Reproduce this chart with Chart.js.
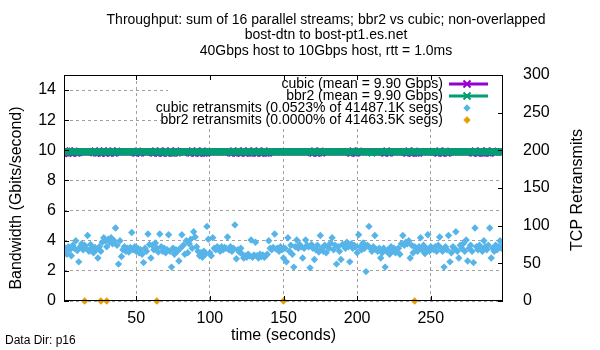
<!DOCTYPE html>
<html>
<head>
<meta charset="utf-8">
<script src="https://cdn.jsdelivr.net/npm/chart.js@4.4.1/dist/chart.umd.min.js"></script>
<style>
  html, body { margin: 0; padding: 0; background: #fff; }
</style>
</head>
<body>
<canvas id="chart" width="600" height="350"></canvas>
<script>
const titleLines = [
  "Throughput: sum of 16 parallel streams; bbr2 vs cubic; non-overlapped",
  "bost-dtn to bost-pt1.es.net",
  "40Gbps host to 10Gbps host, rtt = 1.0ms",
];

// one sample per second, t = 1..299
const seconds = Array.from({ length: 299 }, (_, i) => i + 1);

// throughput in Gbps
const cubicGbps = [
  9.78, 9.84, 9.95, 9.82, 9.96, 9.84, 9.80, 9.95, 9.84, 9.82,
  9.85, 9.90, 9.90, 9.90, 9.90, 9.90, 9.90, 9.90, 9.90, 9.90,
  9.84, 9.96, 9.82, 9.84, 9.95, 9.80, 9.84, 9.96, 9.82, 9.84,
  9.95, 9.82, 9.84, 9.96, 9.82, 9.84, 9.95, 9.90, 9.90, 9.90,
  9.90, 9.90, 9.90, 9.90, 9.90, 9.90, 9.90, 9.90, 9.84, 9.82,
  9.95, 9.84, 9.82, 9.90, 9.90, 9.90, 9.90, 9.90, 9.90, 9.90,
  9.84, 9.82, 9.96, 9.84, 9.82, 9.95, 9.84, 9.82, 9.84, 9.96,
  9.82, 9.84, 9.95, 9.82, 9.84, 9.82, 9.96, 9.90, 9.90, 9.90,
  9.90, 9.90, 9.90, 9.90, 9.90, 9.84, 9.82, 9.96, 9.84, 9.82,
  9.95, 9.84, 9.82, 9.84, 9.96, 9.82, 9.84, 9.82, 9.90, 9.90,
  9.90, 9.90, 9.90, 9.90, 9.90, 9.90, 9.90, 9.90, 9.90, 9.90,
  9.90, 9.90, 9.90, 9.84, 9.82, 9.96, 9.84, 9.82, 9.95, 9.84,
  9.82, 9.84, 9.96, 9.82, 9.84, 9.95, 9.82, 9.84, 9.82, 9.96,
  9.84, 9.82, 9.95, 9.84, 9.82, 9.84, 9.96, 9.82, 9.84, 9.82,
  9.90, 9.90, 9.90, 9.90, 9.90, 9.90, 9.90, 9.90, 9.90, 9.90,
  9.90, 9.90, 9.90, 9.90, 9.90, 9.90, 9.90, 9.90, 9.90, 9.90,
  9.90, 9.90, 9.90, 9.90, 9.90, 9.90, 9.90, 9.90, 9.84, 9.82,
  9.96, 9.84, 9.82, 9.84, 9.95, 9.82, 9.90, 9.90, 9.90, 9.90,
  9.90, 9.90, 9.90, 9.90, 9.90, 9.90, 9.90, 9.90, 9.90, 9.90,
  9.90, 9.90, 9.90, 9.90, 9.84, 9.82, 9.96, 9.84, 9.82, 9.84,
  9.95, 9.90, 9.90, 9.90, 9.90, 9.90, 9.90, 9.90, 9.90, 9.90,
  9.90, 9.90, 9.90, 9.90, 9.90, 9.90, 9.90, 9.84, 9.82, 9.96,
  9.84, 9.82, 9.90, 9.90, 9.90, 9.90, 9.90, 9.90, 9.90, 9.90,
  9.90, 9.90, 9.84, 9.82, 9.96, 9.84, 9.82, 9.84, 9.95, 9.82,
  9.84, 9.82, 9.90, 9.90, 9.90, 9.90, 9.90, 9.90, 9.90, 9.90,
  9.90, 9.90, 9.90, 9.84, 9.82, 9.96, 9.84, 9.82, 9.84, 9.95,
  9.82, 9.84, 9.90, 9.90, 9.90, 9.90, 9.90, 9.90, 9.90, 9.90,
  9.90, 9.90, 9.90, 9.90, 9.90, 9.90, 9.90, 9.84, 9.82, 9.96,
  9.84, 9.82, 9.84, 9.95, 9.82, 9.84, 9.82, 9.96, 9.84, 9.82,
  9.84, 9.95, 9.90, 9.90, 9.90, 9.90, 9.90, 9.90, 9.90,
];

const bbr2Gbps = [
  9.90, 9.90, 9.90, 9.90, 9.90, 9.90, 9.90, 9.90, 9.90, 9.90,
  9.90, 9.90, 9.90, 9.90, 9.90, 9.90, 9.90, 9.90, 9.90, 9.90,
  9.90, 9.90, 9.90, 9.90, 9.90, 9.90, 9.90, 9.90, 9.90, 9.90,
  9.90, 9.90, 9.90, 9.90, 9.90, 9.90, 9.90, 9.90, 9.90, 9.90,
  9.90, 9.90, 9.90, 9.90, 9.90, 9.90, 9.90, 9.90, 9.90, 9.90,
  9.90, 9.90, 9.90, 9.90, 9.90, 9.90, 9.90, 9.90, 9.90, 9.90,
  9.90, 9.90, 9.90, 9.90, 9.90, 9.90, 9.90, 9.90, 9.90, 9.90,
  9.90, 9.82, 9.90, 9.90, 9.90, 9.90, 9.90, 9.82, 9.90, 9.90,
  9.90, 9.90, 9.90, 9.90, 9.90, 9.90, 9.90, 9.90, 9.90, 9.90,
  9.90, 9.90, 9.90, 9.90, 9.90, 9.90, 9.90, 9.90, 9.90, 9.90,
  9.90, 9.90, 9.90, 9.90, 9.90, 9.90, 9.90, 9.90, 9.90, 9.90,
  9.90, 9.90, 9.90, 9.90, 9.90, 9.90, 9.90, 9.90, 9.90, 9.90,
  9.90, 9.90, 9.90, 9.90, 9.90, 9.90, 9.90, 9.90, 9.90, 9.90,
  9.90, 9.90, 9.90, 9.90, 9.90, 9.90, 9.90, 9.90, 9.90, 9.90,
  9.90, 9.90, 9.90, 9.90, 9.90, 9.90, 9.90, 9.90, 9.90, 9.90,
  9.90, 9.90, 9.90, 9.90, 9.90, 9.90, 9.90, 9.90, 9.90, 9.90,
  9.90, 9.90, 9.90, 9.90, 9.90, 9.90, 9.90, 9.90, 9.90, 9.90,
  9.90, 9.90, 9.90, 9.90, 9.90, 9.90, 9.90, 9.90, 9.90, 9.90,
  9.90, 9.90, 9.90, 9.90, 9.90, 9.90, 9.90, 9.90, 9.90, 9.90,
  9.90, 9.90, 9.90, 9.90, 9.90, 9.90, 9.90, 9.90, 9.90, 9.90,
  9.90, 9.90, 9.90, 9.90, 9.90, 9.90, 9.90, 9.90, 9.90, 9.82,
  9.90, 9.90, 9.90, 9.90, 9.90, 9.90, 9.90, 9.90, 9.90, 9.90,
  9.90, 9.90, 9.90, 9.90, 9.90, 9.90, 9.90, 9.90, 9.90, 9.90,
  9.90, 9.90, 9.90, 9.90, 9.90, 9.90, 9.90, 9.90, 9.90, 9.90,
  9.90, 9.90, 9.90, 9.90, 9.90, 9.90, 9.90, 9.90, 9.90, 9.90,
  9.90, 9.90, 9.90, 9.90, 9.90, 9.90, 9.90, 9.90, 9.90, 9.90,
  9.90, 9.90, 9.90, 9.90, 9.90, 9.90, 9.90, 9.90, 9.90, 9.90,
  9.90, 9.90, 9.90, 9.90, 9.90, 9.90, 9.90, 9.90, 9.90, 9.90,
  9.90, 9.90, 9.90, 9.90, 9.90, 9.90, 9.90, 9.90, 9.90, 9.90,
  9.90, 9.90, 9.90, 9.90, 9.90, 9.90, 9.90, 9.90, 9.90,
];

// retransmits per second (right axis)
const cubicRetrans = [
  66, 70, 62, 72, 68, 60, 74, 70, 80, 67,
  52, 72, 76, 68, 74, 70, 87, 66, 75, 70,
  64, 71, 68, 57, 72, 66, 78, 84, 80, 72,
  82, 78, 84, 76, 80, 97, 74, 49, 80, 59,
  68, 72, 66, 70, 65, 71, 91, 68, 72, 66,
  70, 64, 68, 62, 51, 70, 66, 89, 75, 57,
  74, 68, 77, 70, 65, 89, 72, 66, 70, 64,
  68, 88, 66, 45, 70, 62, 68, 66, 53, 70,
  88, 74, 62, 80, 64, 76, 82, 70, 92, 85,
  72, 66, 60, 64, 58, 66, 62, 99, 82, 64,
  60, 84, 70, 68, 72, 70, 66, 72, 68, 71,
  70, 85, 68, 72, 66, 70, 101, 56, 68, 65,
  70, 62, 57, 60, 58, 62, 60, 81, 58, 61,
  78, 60, 57, 62, 59, 61, 58, 60, 62, 80,
  70, 68, 71, 89, 69, 70, 66, 72, 68, 57,
  70, 52, 84, 66, 74, 62, 45, 72, 81, 70,
  75, 72, 57, 70, 81, 74, 72, 44, 75, 70,
  55, 68, 74, 65, 87, 70, 66, 74, 64, 72,
  70, 77, 84, 68, 74, 49, 72, 66, 55, 75,
  74, 70, 78, 72, 52, 76, 70, 74, 72, 64,
  88, 72, 68, 77, 70, 39, 74, 99, 70, 66,
  72, 87, 68, 66, 70, 57, 64, 70, 45, 66,
  68, 62, 72, 66, 70, 64, 68, 70, 62, 76,
  87, 74, 78, 76, 80, 57, 74, 64, 72, 70,
  66, 72, 84, 68, 74, 63, 70, 88, 66, 72,
  70, 68, 72, 66, 74, 85, 70, 66, 45, 72,
  68, 87, 52, 64, 72, 70, 92, 66, 57, 74,
  70, 76, 66, 81, 53, 70, 74, 66, 51, 97,
  72, 68, 74, 70, 66, 80, 72, 68, 74, 97,
  57, 70, 66, 74, 68, 72, 80, 70, 74,
];

// bbr2 only reported retransmit samples at these seconds, all zero
const bbr2RetransSeconds = [15, 26, 30, 64, 150, 239];
const bbr2Retrans = [0, 0, 0, 0, 0, 0];

const leftTicks = [0, 2, 4, 6, 8, 10, 12, 14];
const rightTicks = [0, 50, 100, 150, 200, 250, 300];
const timeTicks = [50, 100, 150, 200, 250];

const FONT = "'Liberation Sans', Arial, sans-serif";
const PURPLE = "#9400d3";
const GREEN = "#009e73";
const BLUE = "#56b4e9";
const ORANGE = "#e69f00";

Chart.defaults.font.family = FONT;
Chart.defaults.color = "#000";

function pairs(xs, ys) {
  return xs.map((x, i) => ({ x: x, y: ys[i] }));
}

function fixedTicks(values) {
  return (scale) => {
    scale.ticks = values.map((v) => ({ value: v }));
  };
}

// titles, legend, border and inward ticks the way gnuplot draws them
const gnuplotLook = {
  id: "gnuplotLook",
  afterDatasetsDraw(chart) {
    const ctx = chart.ctx;
    const area = chart.chartArea;

    // opaque key box
    ctx.save();
    ctx.fillStyle = "#fff";
    ctx.fillRect(168, area.top, area.right - 168, 52);

    ctx.font = "14px " + FONT;
    ctx.textAlign = "right";
    ctx.textBaseline = "middle";
    chart.data.datasets.forEach((ds, i) => {
      const y = 84 + i * 12;
      ctx.fillStyle = "#000";
      ctx.fillText(ds.label, 443, y);
      const mx = 467;
      if (ds.showLine) {
        ctx.strokeStyle = ds.borderColor;
        ctx.lineWidth = 3;
        ctx.beginPath();
        ctx.moveTo(449, y);
        ctx.lineTo(488, y);
        ctx.stroke();
        ctx.lineWidth = 2;
        ctx.beginPath();
        ctx.moveTo(mx - 3.5, y - 3.5);
        ctx.lineTo(mx + 3.5, y + 3.5);
        ctx.moveTo(mx - 3.5, y + 3.5);
        ctx.lineTo(mx + 3.5, y - 3.5);
        ctx.stroke();
      } else {
        ctx.fillStyle = ds.backgroundColor;
        ctx.beginPath();
        ctx.moveTo(mx - 3.7, y);
        ctx.lineTo(mx, y - 3.7);
        ctx.lineTo(mx + 3.7, y);
        ctx.lineTo(mx, y + 3.7);
        ctx.closePath();
        ctx.fill();
      }
    });
    ctx.restore();
  },
  afterDraw(chart) {
    const ctx = chart.ctx;
    const area = chart.chartArea;
    const sx = chart.scales.x;
    const sy = chart.scales.y;
    const sy2 = chart.scales.y2;

    ctx.save();
    ctx.strokeStyle = "#000";
    ctx.lineWidth = 1;
    ctx.strokeRect(area.left + 0.5, area.top + 0.5, area.width - 1, area.height - 1);

    const len = 5;
    ctx.beginPath();
    leftTicks.forEach((v) => {
      const y = Math.round(sy.getPixelForValue(v)) + 0.5;
      ctx.moveTo(area.left, y);
      ctx.lineTo(area.left + len, y);
    });
    rightTicks.forEach((v) => {
      const y = Math.round(sy2.getPixelForValue(v)) + 0.5;
      ctx.moveTo(area.right, y);
      ctx.lineTo(area.right - len, y);
    });
    timeTicks.forEach((v) => {
      const x = Math.round(sx.getPixelForValue(v)) + 0.5;
      ctx.moveTo(x, area.bottom);
      ctx.lineTo(x, area.bottom - len);
      ctx.moveTo(x, area.top);
      ctx.lineTo(x, area.top + len);
    });
    ctx.stroke();

    ctx.fillStyle = "#000";
    ctx.textAlign = "center";
    ctx.textBaseline = "middle";
    ctx.font = "14px " + FONT;
    titleLines.forEach((line, i) => {
      ctx.fillText(line, 326, 20 + i * 15.5);
    });

    ctx.font = "16px " + FONT;
    ctx.fillText("time (seconds)", (area.left + area.right) / 2, 336);

    ctx.save();
    ctx.translate(17, 198);
    ctx.rotate(-Math.PI / 2);
    ctx.fillText("Bandwidth (Gbits/second)", 0, 0);
    ctx.restore();

    ctx.save();
    ctx.translate(578, 190);
    ctx.rotate(-Math.PI / 2);
    ctx.fillText("TCP Retransmits", 0, 0);
    ctx.restore();

    ctx.font = "12px " + FONT;
    ctx.textAlign = "left";
    ctx.fillText("Data Dir: p16", 5, 341);
    ctx.restore();
  },
};

const gridStyle = {
  color: "#a0a0a0",
  lineWidth: 1,
  drawTicks: false,
};

new Chart(document.getElementById("chart"), {
  type: "scatter",
  plugins: [gnuplotLook],
  data: {
    datasets: [
      {
        label: "cubic (mean = 9.90 Gbps)",
        data: pairs(seconds, cubicGbps),
        yAxisID: "y",
        showLine: true,
        borderColor: PURPLE,
        backgroundColor: PURPLE,
        borderWidth: 3,
        pointStyle: "crossRot",
        pointRadius: 4.5,
        pointBorderWidth: 2,
        pointBorderColor: PURPLE,
        order: 4,
      },
      {
        label: "bbr2 (mean = 9.90 Gbps)",
        data: pairs(seconds, bbr2Gbps),
        yAxisID: "y",
        showLine: true,
        borderColor: GREEN,
        backgroundColor: GREEN,
        borderWidth: 3,
        pointStyle: "crossRot",
        pointRadius: 4.5,
        pointBorderWidth: 2,
        pointBorderColor: GREEN,
        order: 3,
      },
      {
        label: "cubic retransmits (0.0523% of 41487.1K segs)",
        data: pairs(seconds, cubicRetrans),
        yAxisID: "y2",
        showLine: false,
        backgroundColor: BLUE,
        borderColor: BLUE,
        pointStyle: "rectRot",
        pointRadius: 3.7,
        pointBorderWidth: 0,
        order: 2,
      },
      {
        label: "bbr2 retransmits (0.0000% of 41463.5K segs)",
        data: pairs(bbr2RetransSeconds, bbr2Retrans),
        yAxisID: "y2",
        showLine: false,
        backgroundColor: ORANGE,
        borderColor: ORANGE,
        pointStyle: "rectRot",
        pointRadius: 3.7,
        pointBorderWidth: 0,
        clip: false,
        order: 1,
      },
    ],
  },
  options: {
    responsive: false,
    animation: false,
    devicePixelRatio: 1,
    events: [],
    layout: { padding: { top: 75, left: 0, right: 0, bottom: 0 } },
    plugins: {
      legend: { display: false },
      title: { display: false },
      tooltip: { enabled: false },
    },
    scales: {
      x: {
        type: "linear",
        min: 1,
        max: 299,
        border: { display: false, dash: [3, 3] },
        grid: gridStyle,
        afterBuildTicks: fixedTicks(timeTicks),
        ticks: {
          padding: 8,
          maxRotation: 0,
          autoSkip: false,
          font: { size: 16 },
        },
        afterFit(scale) {
          scale.height = 49;
        },
      },
      y: {
        position: "left",
        min: 0,
        max: 15,
        border: { display: false, dash: [3, 3] },
        grid: gridStyle,
        afterBuildTicks: fixedTicks(leftTicks),
        ticks: {
          padding: 8,
          autoSkip: false,
          font: { size: 16 },
        },
        afterFit(scale) {
          scale.width = 64;
        },
      },
      y2: {
        position: "right",
        min: 0,
        max: 300,
        border: { display: false },
        grid: { display: false },
        afterBuildTicks: fixedTicks(rightTicks),
        ticks: {
          padding: 12,
          autoSkip: false,
          font: { size: 16 },
        },
        afterFit(scale) {
          scale.width = 97;
        },
      },
    },
  },
});
</script>
</body>
</html>
